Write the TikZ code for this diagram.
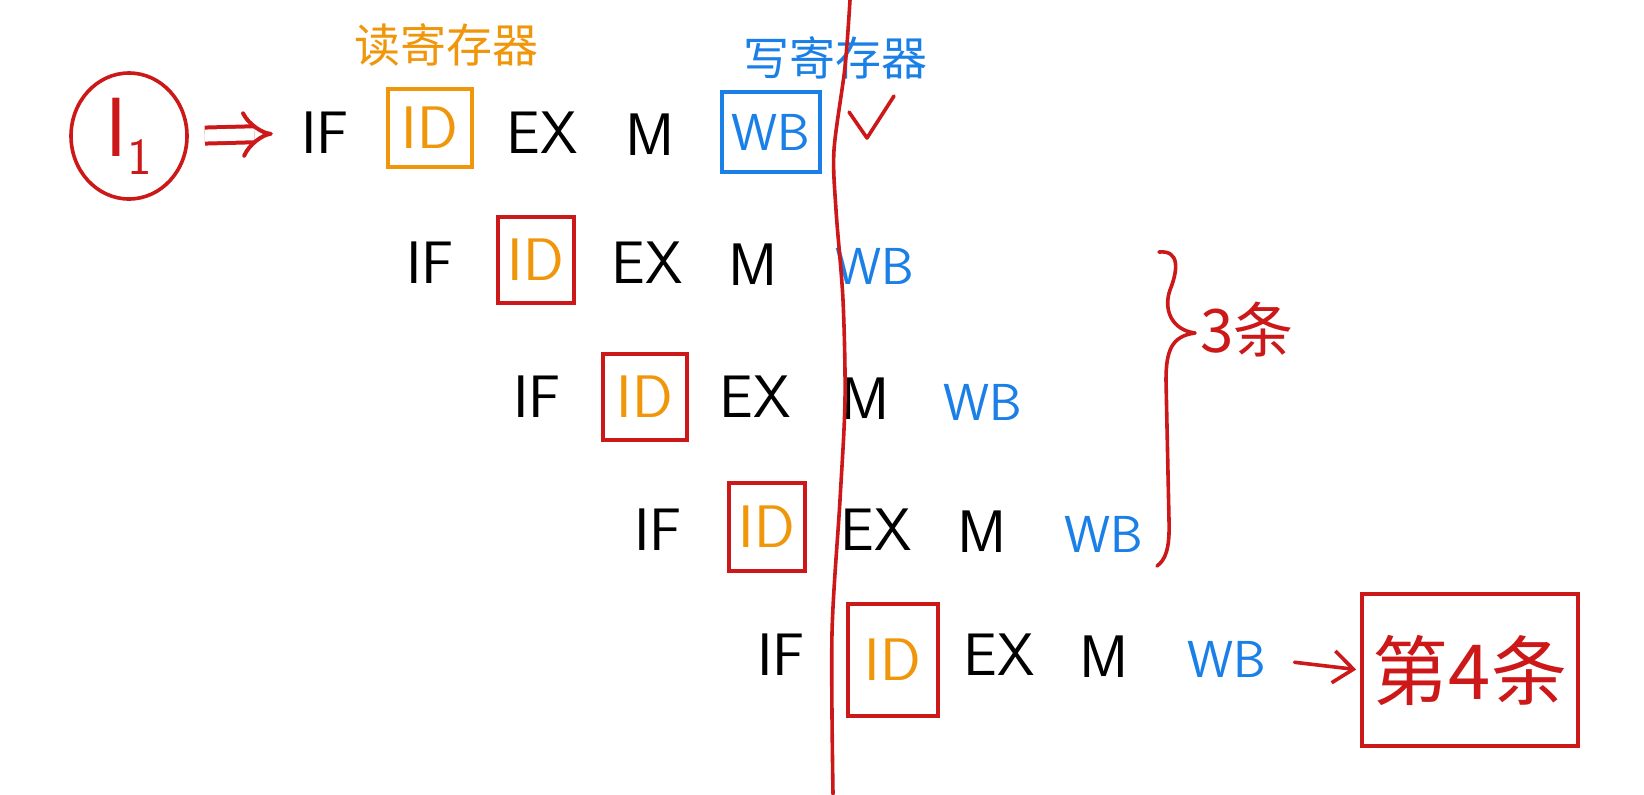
\documentclass[tikz,border=0pt]{standalone}
\usepackage{fontspec}
\newfontfamily\cjk{Noto Sans CJK SC}
\usetikzlibrary{arrows.meta,shapes.geometric}
\definecolor{pred}{HTML}{CC1818}
\definecolor{porange}{HTML}{F0960A}
\definecolor{pblue}{HTML}{1A7FE6}
\begin{document}
\begin{tikzpicture}[x=0.5pt,y=-0.5pt,
  stage/.style={font=\sffamily\fontsize{30}{30}\selectfont, inner sep=0pt, text=black},
  idtxt/.style={stage, text=porange},
  wbtxt/.style={font=\sffamily\fontsize{26}{26}\selectfont, text=pblue, inner sep=0pt},
  redbox/.style={draw=pred, line width=1.8pt},
  idbox/.style={idtxt, redbox},
  cjklabel/.style={font=\cjk\fontsize{23}{23}\selectfont, inner sep=0pt},
  redpen/.style={draw=pred, line width=1.8pt, line cap=round, line join=round}
]
\useasboundingbox (0,0) rectangle (1644,794);
\fill[white] (0,0) rectangle (1644,794);

% labels
\node[cjklabel, text=porange] (lread) at (446,45) {读寄存器};
\node[cjklabel, text=pblue] (lwrite) at (835,58) {写寄存器};

% instruction I1
\node[draw=pred, line width=1.8pt, ellipse, minimum width=58pt, minimum height=63pt, inner sep=0pt,
      text=pred, font=\sffamily\fontsize{42}{42}\selectfont] (i1) at (129,136) {I\textsubscript{\fontsize{26}{26}\selectfont 1}};

% row 1
\node[stage] (r1if) at (325,133) {IF};
\node[idtxt, draw=porange, line width=1.8pt, minimum width=42pt, minimum height=39pt] (r1id) at (430,128) {ID};
\node[stage] (r1ex) at (542,133) {EX};
\node[stage] (r1m) at (650,135) {M};
\node[wbtxt, draw=pblue, line width=1.8pt, minimum width=49pt, minimum height=40pt] (r1wb) at (771,132) {WB};

% row 2
\node[stage] (r2if) at (430,263) {IF};
\node[idbox, minimum width=38pt, minimum height=43pt] (r2id) at (536,260) {ID};
\node[stage] (r2ex) at (647,263) {EX};
\node[stage] (r2m) at (753,265) {M};
\node[wbtxt] (r2wb) at (875,266) {WB};

% row 3
\node[stage] (r3if) at (537,397) {IF};
\node[idbox, minimum width=42pt, minimum height=43pt] (r3id) at (645,397) {ID};
\node[stage] (r3ex) at (755,397) {EX};
\node[stage] (r3m) at (865,399) {M};
\node[wbtxt] (r3wb) at (983,402) {WB};

% row 4
\node[stage] (r4if) at (658,530) {IF};
\node[idbox, minimum width=38pt, minimum height=44pt] (r4id) at (767,527) {ID};
\node[stage] (r4ex) at (876,530) {EX};
\node[stage] (r4m) at (982,532) {M};
\node[wbtxt] (r4wb) at (1104,534) {WB};

% row 5
\node[stage] (r5if) at (781,655) {IF};
\node[idbox, minimum width=45pt, minimum height=56pt] (r5id) at (893,660) {ID};
\node[stage] (r5ex) at (999,655) {EX};
\node[stage] (r5m) at (1104,657) {M};
\node[wbtxt] (r5wb) at (1227,659) {WB};

% 4th instruction box
\node[redbox, text=pred, font=\cjk\fontsize{38}{38}\selectfont, minimum width=108pt, minimum height=76pt] (fourth) at (1470,670) {第4条};

% arrows
\draw[pred, line width=2pt, double distance=6pt, -{Implies}, shorten <=8pt, shorten >=14pt] (i1.east) -- (r1if.west);
\draw[redpen, -{Straight Barb[length=10pt,width=16pt]}, shorten <=14pt, shorten >=2pt] (r5wb.east) -- (fourth.west);

% vertical red line
\draw[redpen] plot[smooth] coordinates {(850,0) (845,67) (834,150) (836,210) (843,300) (845,400) (840,500) (832,633) (833,794)};

% check mark
\draw[redpen] (849,112) -- (867,138) -- (894,96);

% brace
\draw[redpen] (1159,252) .. controls (1180,250) and (1178,270) .. (1170,290)
  .. controls (1163,310) and (1172,330) .. (1195,333)
  .. controls (1172,336) and (1166,350) .. (1166,380)
  -- (1169,520) .. controls (1170,550) and (1165,560) .. (1157,566);
\node[font=\cjk\fontsize{30}{30}\selectfont, text=pred, inner sep=0pt] (three) at (1247,330) {3条};
\end{tikzpicture}
\end{document}
